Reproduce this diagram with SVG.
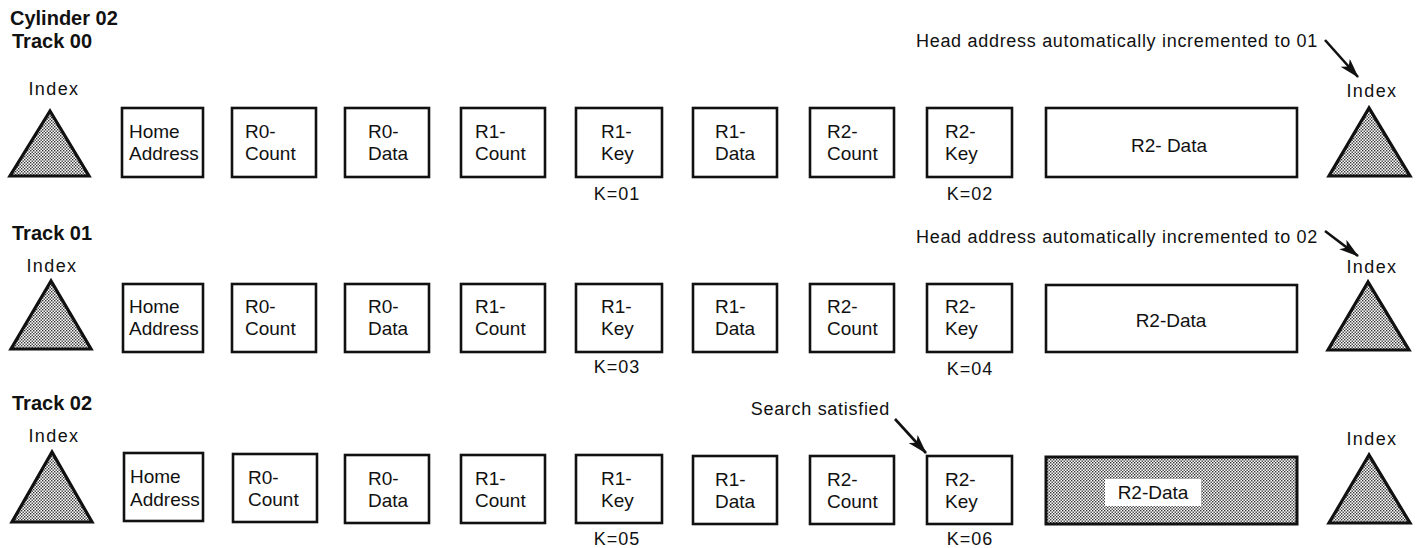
<svg xmlns="http://www.w3.org/2000/svg" width="1420" height="548" viewBox="0 0 1420 548">
<style>
text{font-family:"Liberation Sans",Arial,sans-serif;fill:#111}
.t{font-size:19px}
.lbl{font-size:18px;letter-spacing:0.7px}
.idx{font-size:18px;letter-spacing:1.4px}
.k{font-size:18px;letter-spacing:1px}
.h{font-size:20px;font-weight:bold}
.box{fill:#fff;stroke:#111;stroke-width:2.6}
.tri{fill:url(#dots);stroke:#111;stroke-width:3.2;stroke-linejoin:miter}
.shade{fill:url(#dots);stroke:#111;stroke-width:3}
.arr{stroke:#111;stroke-width:2.6;fill:none;marker-end:url(#ah)}
</style>
<defs>
<pattern id="dots" width="3" height="3" patternUnits="userSpaceOnUse">
<rect width="3" height="3" fill="#fff"/>
<rect x="0" y="0" width="1.4" height="1.4" fill="#333"/>
<rect x="1.5" y="1.5" width="1.4" height="1.4" fill="#333"/>
</pattern>
<marker id="ah" markerUnits="userSpaceOnUse" markerWidth="20" markerHeight="12" refX="19" refY="6" orient="auto">
<path d="M0,0 L20,6 L0,12 L5,6 z" fill="#111"/>
</marker>
</defs>

<g id="headings">
<text class="h" x="10" y="25">Cylinder 02</text>
<text class="h" x="12" y="48">Track 00</text>
<text class="h" x="12" y="240">Track 01</text>
<text class="h" x="12" y="410">Track 02</text>
</g>

<!-- Row 1 -->
<g id="r1-index-left"><text class="idx" x="54" y="95" text-anchor="middle">Index</text><polygon class="tri" points="50,111 10,176 89,176"/></g>
<g id="r1-home"><rect class="box" x="122" y="108" width="81" height="69"/><text class="t"><tspan x="129" y="138">Home</tspan><tspan x="129" y="160">Address</tspan></text></g>
<g id="r1-r0count"><rect class="box" x="232" y="108" width="84" height="69"/><text class="t"><tspan x="245" y="138">R0-</tspan><tspan x="245" y="160">Count</tspan></text></g>
<g id="r1-r0data"><rect class="box" x="345" y="108" width="84" height="69"/><text class="t"><tspan x="368" y="138">R0-</tspan><tspan x="368" y="160">Data</tspan></text></g>
<g id="r1-r1count"><rect class="box" x="461" y="108" width="84" height="69"/><text class="t"><tspan x="475" y="138">R1-</tspan><tspan x="475" y="160">Count</tspan></text></g>
<g id="r1-r1key"><rect class="box" x="576" y="108" width="86" height="69"/><text class="t"><tspan x="601" y="138">R1-</tspan><tspan x="601" y="160">Key</tspan></text><text class="k" x="617" y="200" text-anchor="middle">K=01</text></g>
<g id="r1-r1data"><rect class="box" x="693" y="108" width="84" height="69"/><text class="t"><tspan x="715" y="138">R1-</tspan><tspan x="715" y="160">Data</tspan></text></g>
<g id="r1-r2count"><rect class="box" x="810" y="108" width="84" height="69"/><text class="t"><tspan x="827" y="138">R2-</tspan><tspan x="827" y="160">Count</tspan></text></g>
<g id="r1-r2key"><rect class="box" x="927" y="108" width="85" height="69"/><text class="t"><tspan x="945" y="138">R2-</tspan><tspan x="945" y="160">Key</tspan></text><text class="k" x="970" y="200" text-anchor="middle">K=02</text></g>
<g id="r1-r2data"><rect class="box" x="1046" y="108" width="251" height="69"/><text class="t" x="1169" y="152" text-anchor="middle">R2- Data</text></g>
<g id="r1-index-right"><text class="idx" x="1372" y="97" text-anchor="middle">Index</text><polygon class="tri" points="1369,108 1329,176 1410,176"/></g>
<g id="r1-note"><text class="lbl" x="1318" y="47" text-anchor="end">Head address automatically incremented to 01</text></g>

<!-- Row 2 -->
<g id="r2-index-left"><text class="idx" x="52" y="272" text-anchor="middle">Index</text><polygon class="tri" points="51,281 11,349 91,349"/></g>
<g id="r2-home"><rect class="box" x="123" y="284" width="80" height="68"/><text class="t"><tspan x="129" y="313">Home</tspan><tspan x="129" y="335">Address</tspan></text></g>
<g id="r2-r0count"><rect class="box" x="232" y="284" width="84" height="68"/><text class="t"><tspan x="245" y="313">R0-</tspan><tspan x="245" y="335">Count</tspan></text></g>
<g id="r2-r0data"><rect class="box" x="345" y="284" width="84" height="68"/><text class="t"><tspan x="368" y="313">R0-</tspan><tspan x="368" y="335">Data</tspan></text></g>
<g id="r2-r1count"><rect class="box" x="461" y="284" width="84" height="68"/><text class="t"><tspan x="475" y="313">R1-</tspan><tspan x="475" y="335">Count</tspan></text></g>
<g id="r2-r1key"><rect class="box" x="576" y="284" width="86" height="68"/><text class="t"><tspan x="601" y="313">R1-</tspan><tspan x="601" y="335">Key</tspan></text><text class="k" x="617" y="373" text-anchor="middle">K=03</text></g>
<g id="r2-r1data"><rect class="box" x="693" y="284" width="84" height="68"/><text class="t"><tspan x="715" y="313">R1-</tspan><tspan x="715" y="335">Data</tspan></text></g>
<g id="r2-r2count"><rect class="box" x="810" y="284" width="84" height="68"/><text class="t"><tspan x="827" y="313">R2-</tspan><tspan x="827" y="335">Count</tspan></text></g>
<g id="r2-r2key"><rect class="box" x="927" y="284" width="85" height="68"/><text class="t"><tspan x="945" y="313">R2-</tspan><tspan x="945" y="335">Key</tspan></text><text class="k" x="970" y="375" text-anchor="middle">K=04</text></g>
<g id="r2-r2data"><rect class="box" x="1046" y="285" width="251" height="67"/><text class="t" x="1171" y="327" text-anchor="middle">R2-Data</text></g>
<g id="r2-index-right"><text class="idx" x="1372" y="273" text-anchor="middle">Index</text><polygon class="tri" points="1368,282 1328,350 1409,350"/></g>
<g id="r2-note"><text class="lbl" x="1318" y="243" text-anchor="end">Head address automatically incremented to 02</text></g>

<!-- Row 3 -->
<g id="r3-index-left"><text class="idx" x="54" y="442" text-anchor="middle">Index</text><polygon class="tri" points="52,452 12,522 92,522"/></g>
<g id="r3-home"><rect class="box" x="124" y="453" width="79" height="68"/><text class="t"><tspan x="130" y="483">Home</tspan><tspan x="130" y="506">Address</tspan></text></g>
<g id="r3-r0count"><rect class="box" x="233" y="454" width="84" height="68"/><text class="t"><tspan x="248" y="484">R0-</tspan><tspan x="248" y="506">Count</tspan></text></g>
<g id="r3-r0data"><rect class="box" x="345" y="455" width="84" height="68"/><text class="t"><tspan x="368" y="485">R0-</tspan><tspan x="368" y="507">Data</tspan></text></g>
<g id="r3-r1count"><rect class="box" x="461" y="455" width="84" height="68"/><text class="t"><tspan x="475" y="485">R1-</tspan><tspan x="475" y="507">Count</tspan></text></g>
<g id="r3-r1key"><rect class="box" x="576" y="455" width="86" height="68"/><text class="t"><tspan x="601" y="485">R1-</tspan><tspan x="601" y="507">Key</tspan></text><text class="k" x="617" y="545" text-anchor="middle">K=05</text></g>
<g id="r3-r1data"><rect class="box" x="693" y="456" width="84" height="68"/><text class="t"><tspan x="715" y="486">R1-</tspan><tspan x="715" y="508">Data</tspan></text></g>
<g id="r3-r2count"><rect class="box" x="810" y="456" width="84" height="68"/><text class="t"><tspan x="827" y="486">R2-</tspan><tspan x="827" y="508">Count</tspan></text></g>
<g id="r3-r2key"><rect class="box" x="927" y="456" width="85" height="68"/><text class="t"><tspan x="945" y="486">R2-</tspan><tspan x="945" y="508">Key</tspan></text><text class="k" x="970" y="545" text-anchor="middle">K=06</text></g>
<g id="r3-r2data"><rect class="shade" x="1046" y="457" width="251" height="67"/><rect x="1105" y="479" width="96" height="27" fill="#fff"/><text class="t" x="1153" y="499" text-anchor="middle">R2-Data</text></g>
<g id="r3-index-right"><text class="idx" x="1372" y="445" text-anchor="middle">Index</text><polygon class="tri" points="1369,455 1329,523 1410,523"/></g>
<g id="r3-note"><text class="lbl" x="890" y="415" text-anchor="end">Search satisfied</text></g>

<g id="connectors">
<line class="arr" x1="1325" y1="40" x2="1358" y2="77"/>
<line class="arr" x1="1325" y1="231" x2="1358" y2="256"/>
<line class="arr" x1="895" y1="419" x2="926" y2="453"/>
</g>
</svg>
